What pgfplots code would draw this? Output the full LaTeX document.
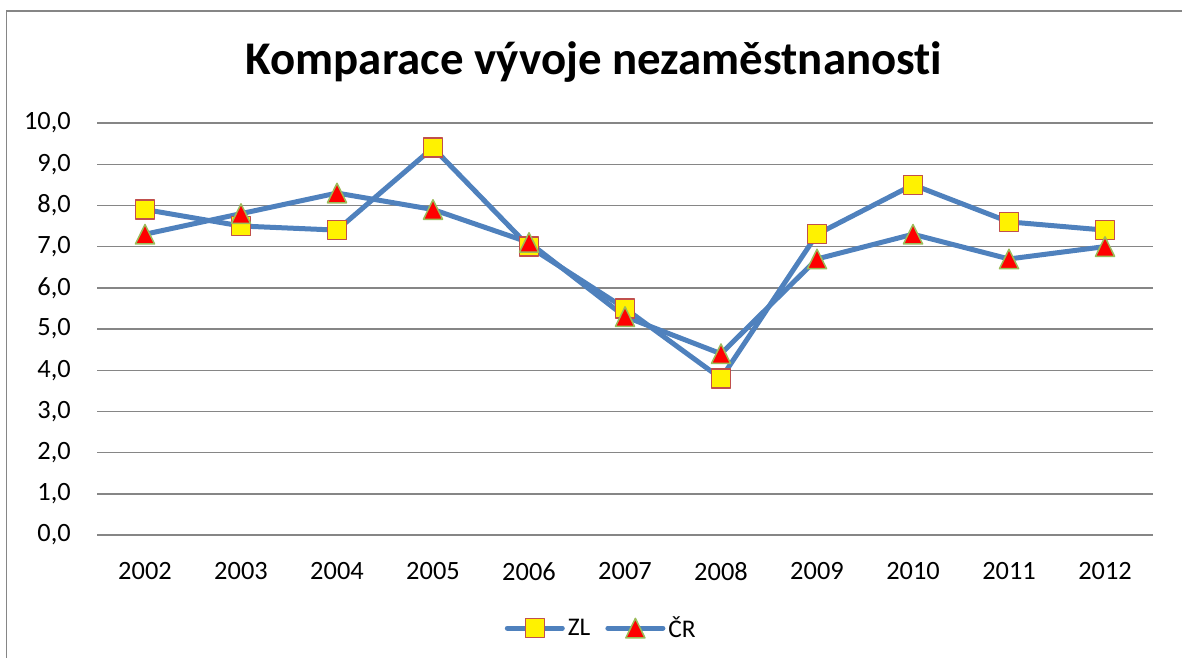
\documentclass[border=0pt]{standalone}
\usepackage{pgfplots}
\pgfplotsset{compat=1.18}
\usepackage{fontspec}
\setmainfont{Carlito}[Ligatures=NoCommon]
\definecolor{lineblue}{RGB}{79,129,189}
\definecolor{sqborder}{RGB}{192,80,77}
\definecolor{trborder}{RGB}{155,187,89}
\definecolor{gridgray}{RGB}{134,134,134}
\definecolor{framegray}{RGB}{134,134,134}
\begin{document}
\begin{tikzpicture}[x=1bp,y=1bp]
\useasboundingbox (0,0) rectangle (1182,-658);
\draw[framegray, line width=1.3bp] (6.5,-660) -- (6.5,-11) -- (1184,-11);
\node[font=\fontsize{47}{54}\selectfont\bfseries] at (594,-62) {Komparace vývoje nezaměstnanosti};
\begin{axis}[
  at={(97bp,-535bp)}, anchor=south west,
  scale only axis, width=1056bp, height=412bp,
  xmin=-0.5, xmax=10.5, ymin=0, ymax=10,
  xtick={0,1,2,3,4,5,6,7,8,9,10},
  xticklabels={2002,2003,2004,2005,2006,2007,2008,2009,2010,2011,2012},
  ytick={0,1,2,3,4,5,6,7,8,9,10},
  axis line style={draw=none},
  major tick length=0pt,
  ymajorgrids,
  grid style={gridgray, line width=1.4bp},
  tick label style={font=\fontsize{26.5}{31}\selectfont},
  yticklabel style={anchor=east, inner sep=0pt, xshift=-26bp,
    /pgf/number format/.cd, fixed, fixed zerofill, precision=1, use comma, assume math mode=true},
  xticklabel style={anchor=north, inner sep=0pt, yshift=-27bp},
  clip=false,
  legend columns=2,
  legend style={at={(0.478,-0.226)}, anchor=center, draw=none, fill=none,
    font=\fontsize{25.5}{30}\selectfont,
    /tikz/every even column/.append style={column sep=12bp},
    inner xsep=0pt, nodes={inner xsep=3bp}},
  legend image code/.code={\draw[mark repeat=2,mark phase=2,#1] plot coordinates {(0bp,0bp) (27.5bp,0bp) (55bp,0bp)};},
]
\addplot[lineblue, line width=5bp, line join=round, line cap=round,
  mark=square*, mark size=9.5bp,
  mark options={fill=yellow, draw=sqborder, line width=1.5bp, solid}]
  coordinates {(0,7.9) (1,7.5) (2,7.4) (3,9.4) (4,7.0) (5,5.5) (6,3.8) (7,7.3) (8,8.5) (9,7.6) (10,7.4)};
\addlegendentry{ZL}
\addplot[lineblue, line width=5bp, line join=round, line cap=round,
  mark=triangle*, mark size=13bp,
  mark options={fill=red, draw=trborder, line width=1.5bp, solid, xscale=0.85, yshift=-3.25bp}]
  coordinates {(0,7.3) (1,7.8) (2,8.3) (3,7.9) (4,7.1) (5,5.3) (6,4.4) (7,6.7) (8,7.3) (9,6.7) (10,7.0)};
\addlegendentry{ČR}
\end{axis}
\end{tikzpicture}
\end{document}
